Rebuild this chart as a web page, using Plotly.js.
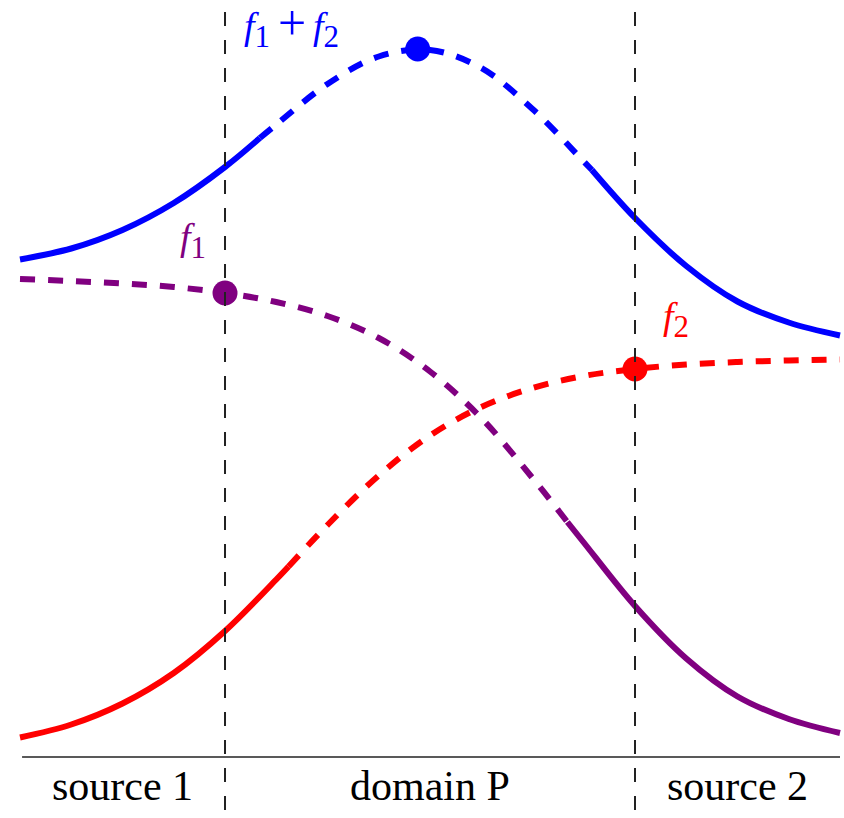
<!DOCTYPE html>
<html>
<head>
<meta charset="utf-8">
<script src="https://cdn.plot.ly/plotly-3.0.1.min.js"></script>
<style>
  html, body { margin: 0; padding: 0; background: #ffffff; }
  #chart { width: 844px; height: 818px; }
</style>
</head>
<body>
<div id="chart"></div>
<script>
// Position along the line: source 1 | domain P | source 2, boundaries at x = -1 and x = 1

// f1: decays from source 1 across domain P (break point at x = 0.67 included)
const f1X = [-2, -1.75, -1.5, -1.25, -1, -0.75, -0.5, -0.25, 0, 0.25, 0.5, 0.67, 0.75, 1, 1.25, 1.5, 1.75, 2];
const f1Y = [0.956, 0.952, 0.947, 0.940, 0.928, 0.910, 0.882, 0.838, 0.771, 0.678, 0.558, 0.470, 0.429, 0.302, 0.197, 0.121, 0.076, 0.048];

// f2: rises from the left towards source 2 (break point at x = -0.69 included)
const f2X = [-2, -1.75, -1.5, -1.25, -1, -0.75, -0.69, -0.5, -0.25, 0, 0.25, 0.5, 0.75, 1, 1.25, 1.5, 1.75, 2];
const f2Y = [0.039, 0.065, 0.107, 0.168, 0.252, 0.355, 0.381, 0.464, 0.563, 0.643, 0.700, 0.738, 0.762, 0.776, 0.785, 0.790, 0.793, 0.795];

// f1 + f2 (break points at x = -0.83 and x = 0.79 included)
const sumX = [-2, -1.75, -1.5, -1.25, -1, -0.83, -0.75, -0.5, -0.25, 0, 0.25, 0.5, 0.75, 0.79, 1, 1.25, 1.5, 1.75, 2];
const sumY = [0.995, 1.017, 1.054, 1.108, 1.180, 1.238, 1.265, 1.346, 1.401, 1.414, 1.378, 1.296, 1.191, 1.174, 1.078, 0.982, 0.911, 0.869, 0.843];

// Highlighted points: maximum of f1+f2, f1 at the source-1 boundary, f2 at the source-2 boundary
const dotX = [-0.06, -1, 1];
const dotY = [1.416, 0.928, 0.776];

// Region boundaries and region names
const boundaries = [-1, 1];
const regionNames = ['source 1', 'domain P', 'source 2'];
const regionCenters = [-1.5, 0, 1.5];

const BLUE = '#0000ff', PURPLE = '#800080', RED = '#ff0000';
const DASH = '15px,13px';
const LW = 6;

function piece(xs, ys, lo, hi, color, dash) {
  const x = [], y = [];
  xs.forEach((v, i) => { if (v >= lo - 1e-9 && v <= hi + 1e-9) { x.push(v); y.push(ys[i]); } });
  return {
    type: 'scatter', mode: 'lines', x: x, y: y, hoverinfo: 'skip',
    line: { color: color, width: LW, dash: dash, shape: 'spline', smoothing: 1 }
  };
}

const traces = [
  // f1 (purple): dashed, then solid towards source 2
  piece(f1X, f1Y, -2, 0.67, PURPLE, DASH),
  piece(f1X, f1Y, 0.67, 2, PURPLE, 'solid'),
  // f2 (red): solid from source 1, then dashed
  piece(f2X, f2Y, -2, -0.69, RED, 'solid'),
  piece(f2X, f2Y, -0.69, 2, RED, DASH),
  // f1 + f2 (blue): solid, dashed over the middle, solid
  piece(sumX, sumY, -2, -0.83, BLUE, 'solid'),
  piece(sumX, sumY, -0.83, 0.79, BLUE, DASH),
  piece(sumX, sumY, 0.79, 2, BLUE, 'solid'),
  {
    type: 'scatter', mode: 'markers', x: dotX, y: dotY, hoverinfo: 'skip',
    marker: { size: 25, color: [BLUE, PURPLE, RED], line: { width: 0 } }
  }
];

const shapes = boundaries.map(b => ({
  type: 'line', xref: 'x', yref: 'y', x0: b, x1: b, y0: 1.49, y1: -0.13,
  line: { color: '#222222', width: 2, dash: '14px,14px' }
}));
// horizontal axis line
shapes.push({
  type: 'line', xref: 'x', yref: 'y', x0: -1.99, x1: 2, y0: 0, y1: 0,
  line: { color: '#222222', width: 1.6 }
});

const serif = 'Liberation Serif';
const fn = d => '<i>f</i><sub><span style="font-size:31px">' + d + '</span></sub>';
function label(x, y, text, color, size) {
  return { x: x, y: y, xref: 'x', yref: 'y', showarrow: false, xanchor: 'center', yanchor: 'middle',
    text: text, font: { family: serif, size: size, color: color } };
}
const annotations = regionNames.map((t, i) => label(regionCenters[i], -0.058, t, '#000000', 42));
annotations.push(
  // f1 + f2, set as three pieces so the plus keeps full size
  label(-0.842, 1.456, fn(1), BLUE, 38),
  label(-0.673, 1.468, '+', BLUE, 50),
  label(-0.505, 1.456, fn(2), BLUE, 38),
  label(-1.156, 1.034, fn(1), PURPLE, 38),
  label(1.2, 0.876, fn(2), RED, 38)
);

const layout = {
  width: 844, height: 818,
  margin: { l: 0, r: 0, t: 0, b: 0 },
  paper_bgcolor: '#ffffff', plot_bgcolor: '#ffffff',
  showlegend: false,
  xaxis: { range: [-2.0976, 2.0195], visible: false, fixedrange: true },
  yaxis: { range: [-0.122, 1.514], visible: false, fixedrange: true },
  shapes: shapes,
  annotations: annotations
};

Plotly.newPlot('chart', traces, layout, { staticPlot: true, displayModeBar: false });
</script>
</body>
</html>
